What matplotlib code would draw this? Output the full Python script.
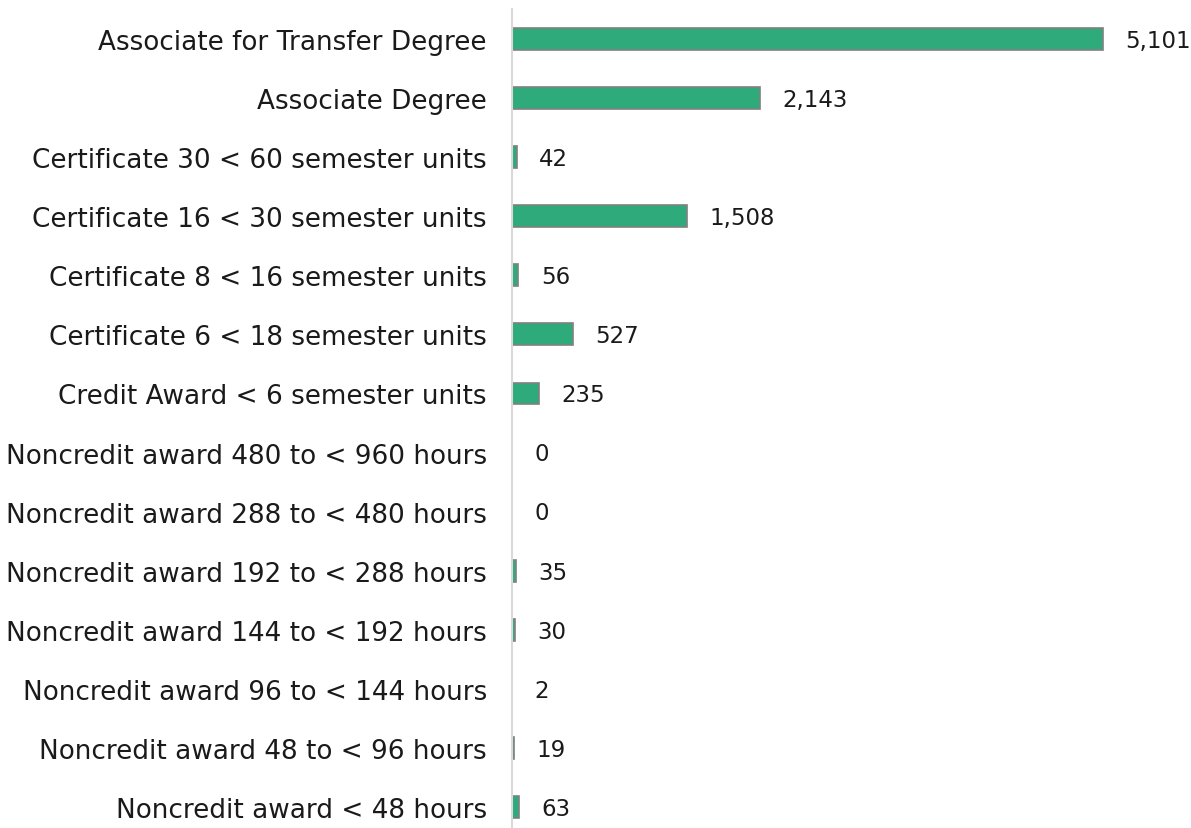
import matplotlib.pyplot as plt

categories = [
    "Associate for Transfer Degree",
    "Associate Degree",
    "Certificate 30 < 60 semester units",
    "Certificate 16 < 30 semester units",
    "Certificate 8 < 16 semester units",
    "Certificate 6 < 18 semester units",
    "Credit Award < 6 semester units",
    "Noncredit award 480 to < 960 hours",
    "Noncredit award 288 to < 480 hours",
    "Noncredit award 192 to < 288 hours",
    "Noncredit award 144 to < 192 hours",
    "Noncredit award 96 to < 144 hours",
    "Noncredit award 48 to < 96 hours",
    "Noncredit award < 48 hours",
]
awards = [5101, 2143, 42, 1508, 56, 527, 235, 0, 0, 35, 30, 2, 19, 63]

plt.rcParams["font.family"] = ["DejaVu Sans"]

fig = plt.figure(figsize=(11.91, 8.29), dpi=100)
W, H = 1191, 829
# axes from x=512 to right edge, y=10 to bottom edge (pixels)
ax = fig.add_axes([512 / W, 0, (W - 512) / W, (H - 10) / H])

positions = list(range(len(categories)))
ax.barh(positions, awards, height=0.37, color="#2eaa7b", edgecolor="#808080", linewidth=1.2)

ax.set_xlim(0, 5858)
ax.set_ylim(13.356, -0.508)

ax.set_yticks(positions)
ax.set_yticklabels(categories, fontsize=18.9, color="#1a1a1a")
ax.tick_params(axis="y", length=0, pad=18)
ax.set_xticks([])

for spine in ["top", "right", "bottom"]:
    ax.spines[spine].set_visible(False)
ax.spines["left"].set_color("#d9d9d9")
ax.spines["left"].set_linewidth(1.5)

for pos, val in zip(positions, awards):
    ax.annotate(f"{val:,}", xy=(val, pos), xytext=(16, -1), textcoords="offset points",
                va="center", ha="left", fontsize=16.5, color="#1a1a1a", clip_on=False)

fig.savefig("out.png", dpi=100)
